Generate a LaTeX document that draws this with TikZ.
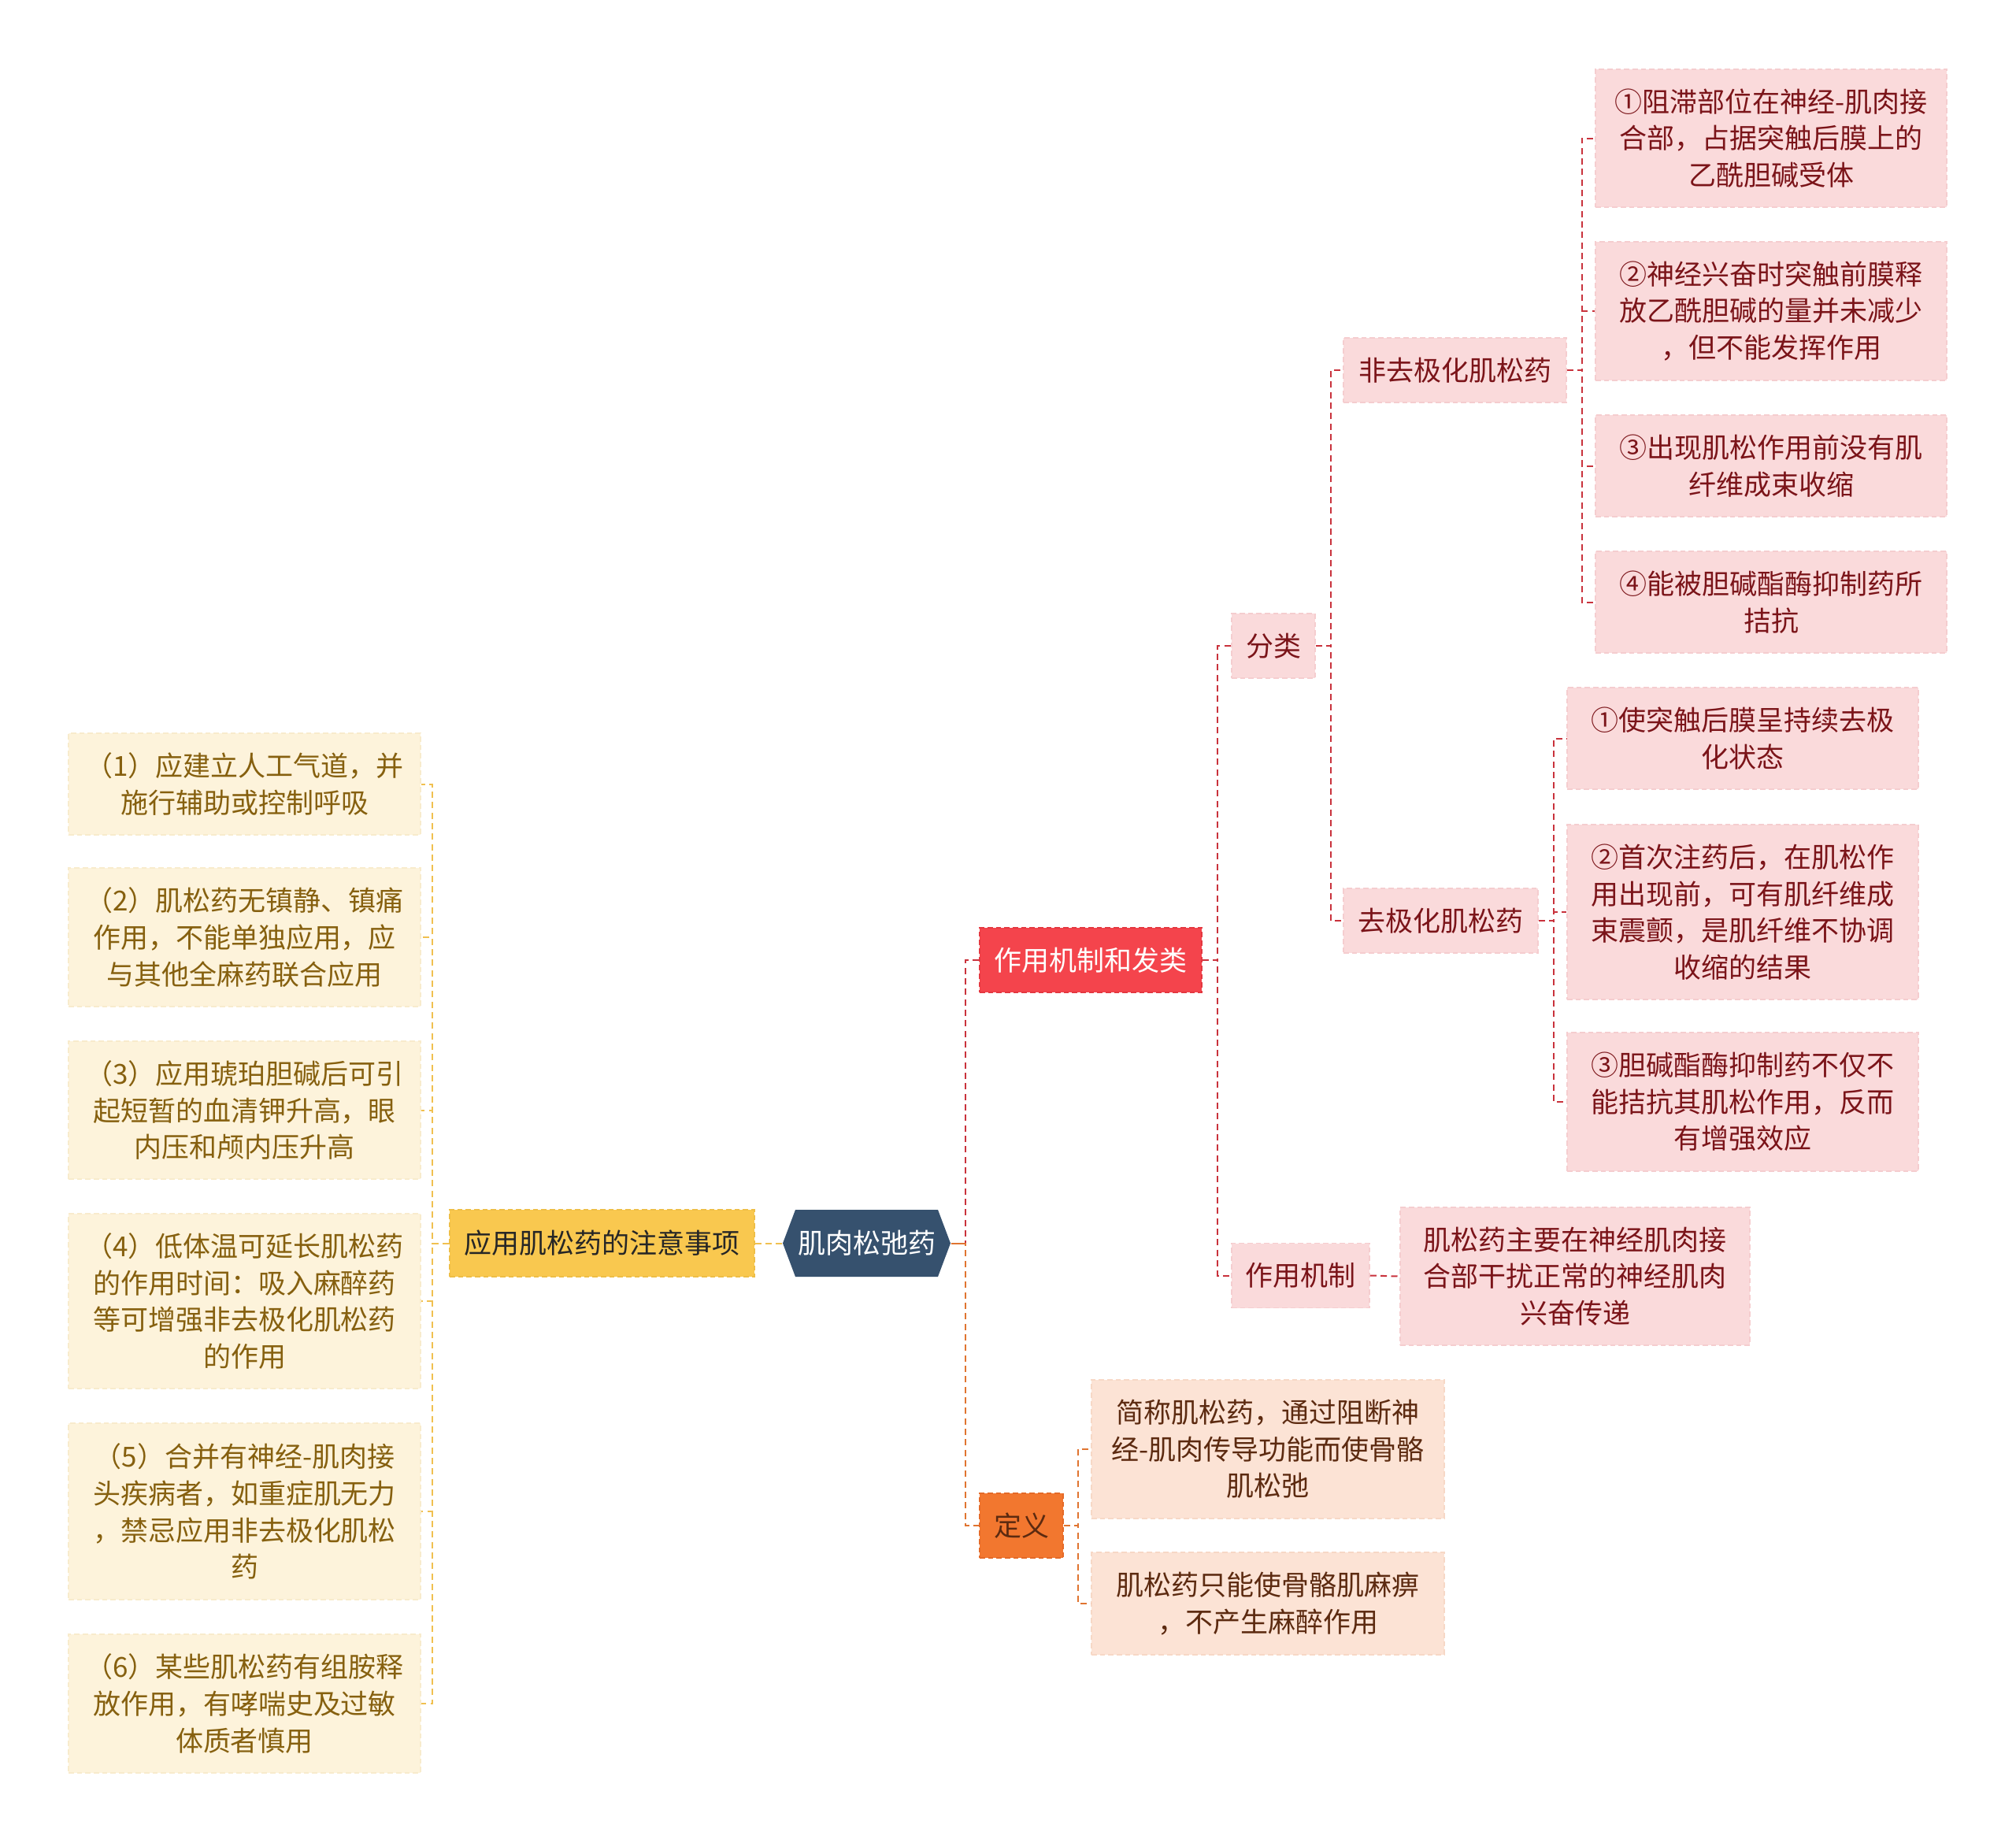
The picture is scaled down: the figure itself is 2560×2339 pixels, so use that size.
\documentclass[tikz,border=0pt]{standalone}
\usepackage{fontspec}
\setmainfont{Noto Sans CJK SC}
\definecolor{navy}{HTML}{36516E}
\definecolor{yelmain}{HTML}{F9C84F}
\definecolor{yelmainb}{HTML}{EEBE46}
\definecolor{yelleaf}{HTML}{FDF3DB}
\definecolor{yelleafb}{HTML}{F8EBCC}
\definecolor{yeltext}{HTML}{86600F}
\definecolor{yelline}{HTML}{F0C050}
\definecolor{redmain}{HTML}{F4444C}
\definecolor{redmainb}{HTML}{E43840}
\definecolor{pinkfill}{HTML}{FADADB}
\definecolor{pinkb}{HTML}{F5CDCF}
\definecolor{redtext}{HTML}{7B1419}
\definecolor{redline}{HTML}{C9323C}
\definecolor{ormain}{HTML}{F2772F}
\definecolor{ormainb}{HTML}{E46A28}
\definecolor{orfill}{HTML}{FCE3D5}
\definecolor{orb}{HTML}{F7D8C6}
\definecolor{ortext}{HTML}{5C2A10}
\definecolor{orline}{HTML}{E07430}
\begin{document}
\begin{tikzpicture}[x=0.3pt,y=-0.3pt,
  every node/.style={font=\fontsize{10.5pt}{14pt}\selectfont, align=center, inner sep=0pt, rectangle},
  sz/.style 2 args={minimum width=#1*0.3pt, minimum height=#2*0.3pt},
  nodedash/.style={dash pattern=on 2pt off 1.2pt, line width=0.5pt},
  ymain/.style={fill=yelmain, draw=yelmainb, nodedash, text=black!85},
  yleaf/.style={fill=yelleaf, draw=yelleafb, nodedash, text=yeltext},
  rmain/.style={fill=redmain, draw=redmainb, nodedash, text=white},
  rleaf/.style={fill=pinkfill, draw=pinkb, nodedash, text=redtext},
  omain/.style={fill=ormain, draw=ormainb, nodedash, text=ortext},
  oleaf/.style={fill=orfill, draw=orb, nodedash, text=ortext},
  conn/.style={line width=0.6pt, dash pattern=on 2.4pt off 1.6pt},
  yline/.style={conn, draw=yelline},
  rline/.style={conn, draw=redline},
  oline/.style={conn, draw=orline}]
\useasboundingbox[fill=white] (0,0) rectangle (2560,2339);

% root (hexagon drawn first, text node on top)
\fill[navy] (994,1578.5) -- (1010,1536) -- (1191,1536) -- (1207,1578.5) -- (1191,1621) -- (1010,1621) -- cycle;
\node[sz={213}{85}, text=white] (root) at (1100.5,1578.5) {肌肉松弛药};

% left branch
\node[ymain, sz={387}{85}] (care) at (764.5,1578.5) {应用肌松药的注意事项};
\node[yleaf, sz={447}{129}] (c1) at (310.5,995.5) {（1）应建立人工气道，并\\施行辅助或控制呼吸};
\node[yleaf, sz={447}{176}] (c2) at (310.5,1190) {（2）肌松药无镇静、镇痛\\作用，不能单独应用，应\\与其他全麻药联合应用};
\node[yleaf, sz={447}{175}] (c3) at (310.5,1409.5) {（3）应用琥珀胆碱后可引\\起短暂的血清钾升高，眼\\内压和颅内压升高};
\node[yleaf, sz={447}{222}] (c4) at (310.5,1652) {（4）低体温可延长肌松药\\的作用时间：吸入麻醉药\\等可增强非去极化肌松药\\的作用};
\node[yleaf, sz={447}{224}] (c5) at (310.5,1919) {（5）合并有神经-肌肉接\\头疾病者，如重症肌无力\\，禁忌应用非去极化肌松\\药};
\node[yleaf, sz={447}{176}] (c6) at (310.5,2163) {（6）某些肌松药有组胺释\\放作用，有哮喘史及过敏\\体质者慎用};

% right branch: mechanism
\node[rmain, sz={282}{82}] (mech) at (1385,1219) {作用机制和发类};
\node[rleaf, sz={106}{82}] (cls) at (1617,820) {分类};
\node[rleaf, sz={175}{82}] (act) at (1651.5,1619.5) {作用机制};
\node[rleaf, sz={444}{175}] (actl) at (2000,1620.5) {肌松药主要在神经肌肉接\\合部干扰正常的神经肌肉\\兴奋传递};
\node[rleaf, sz={283}{82}] (nd) at (1847.5,470) {非去极化肌松药};
\node[rleaf, sz={247}{82}] (dp) at (1829.5,1169) {去极化肌松药};
\node[rleaf, sz={446}{175}] (nd1) at (2249,175.5) {①阻滞部位在神经-肌肉接\\合部，占据突触后膜上的\\乙酰胆碱受体};
\node[rleaf, sz={446}{176}] (nd2) at (2249,395) {②神经兴奋时突触前膜释\\放乙酰胆碱的量并未减少\\，但不能发挥作用};
\node[rleaf, sz={446}{129}] (nd3) at (2249,591.5) {③出现肌松作用前没有肌\\纤维成束收缩};
\node[rleaf, sz={446}{129}] (nd4) at (2249,764.5) {④能被胆碱酯酶抑制药所\\拮抗};
\node[rleaf, sz={446}{129}] (dp1) at (2213,937.5) {①使突触后膜呈持续去极\\化状态};
\node[rleaf, sz={446}{222}] (dp2) at (2213,1158) {②首次注药后，在肌松作\\用出现前，可有肌纤维成\\束震颤，是肌纤维不协调\\收缩的结果};
\node[rleaf, sz={446}{176}] (dp3) at (2213,1399) {③胆碱酯酶抑制药不仅不\\能拮抗其肌松作用，反而\\有增强效应};

% right branch: definition
\node[omain, sz={106}{82}] (def) at (1297,1937) {定义};
\node[oleaf, sz={448}{176}] (def1) at (1610,1840) {简称肌松药，通过阻断神\\经-肌肉传导功能而使骨骼\\肌松弛};
\node[oleaf, sz={448}{130}] (def2) at (1610,2036) {肌松药只能使骨骼肌麻痹\\，不产生麻醉作用};

% connectors
\draw[yline] (root.west) -- (care.east);
\foreach \n in {c1,c2,c3,c4,c5,c6}
  \draw[yline] (care.west) -- ++(-21,0) |- (\n.east);
\draw[line width=0.6pt, orline] (root.east) -- ++(18,0);
\draw[rline] (root.east) -- ++(18,0) |- (mech.west);
\draw[oline] (root.east) -- ++(18,0) |- (def.west);
\foreach \n in {cls,act}
  \draw[rline] (mech.east) -- ++(19,0) |- (\n.west);
\foreach \n in {nd,dp}
  \draw[rline] (cls.east) -- ++(19,0) |- (\n.west);
\foreach \n in {nd1,nd2,nd3,nd4}
  \draw[rline] (nd.east) -- ++(19,0) |- (\n.west);
\foreach \n in {dp1,dp2,dp3}
  \draw[rline] (dp.east) -- ++(19,0) |- (\n.west);
\draw[rline] (act.east) -- (actl.west);
\foreach \n in {def1,def2}
  \draw[oline] (def.east) -- ++(18,0) |- (\n.west);
\end{tikzpicture}
\end{document}
